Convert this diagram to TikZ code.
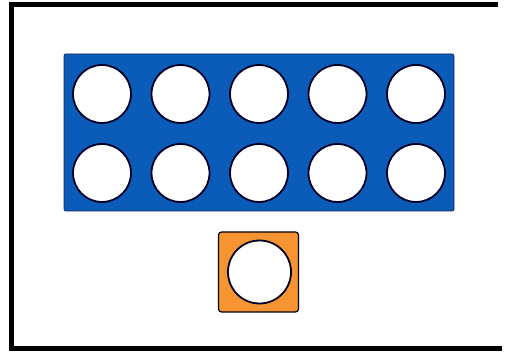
\documentclass[tikz,border=0pt]{standalone}
\definecolor{tenblue}{RGB}{10,92,184}
\definecolor{tenedge}{RGB}{20,40,90}
\definecolor{oneorange}{RGB}{247,148,50}
\tikzset{
  hole/.style={circle, fill=white, draw=black!85!blue, line width=1.8pt, minimum size=58pt, inner sep=0pt},
  frameline/.style={line width=5pt, black},
}
\begin{document}
\begin{tikzpicture}[x=1pt,y=-1pt]
\useasboundingbox (0,0) rectangle (506,352);
\fill[white] (0,0) rectangle (506,352);
% frame
\draw[frameline] (498,4.5) -- (11.5,4.5) -- (11.5,348.5) -- (502,348.5);
% ten frame
\node[draw=tenedge, line width=0.8pt, fill=tenblue, rounded corners=2pt, minimum width=390pt, minimum height=157pt, inner sep=0pt] (ten) at (259,132.5) {};
\foreach \i/\x in {1/102,2/180.5,3/259,4/337.5,5/416} {
  \node[hole] (a\i) at (\x,94) {};
  \node[hole] (b\i) at (\x,173) {};
}
% one
\node[draw=black, line width=1.2pt, fill=oneorange, rounded corners=3pt, minimum size=80pt, inner sep=0pt] (one) at (258.5,272) {};
\node[hole, minimum size=63pt] (onehole) at (259.5,272) {};
\end{tikzpicture}
\end{document}
